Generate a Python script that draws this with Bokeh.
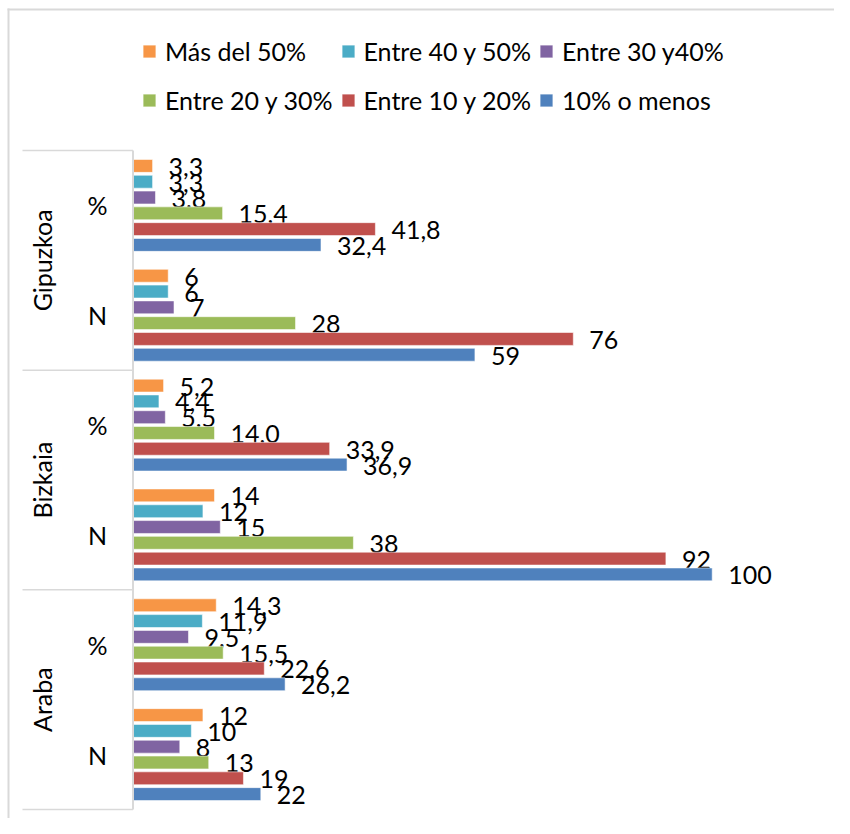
import numpy as np
from bokeh.plotting import figure
from bokeh.models import ColumnDataSource, Legend, LegendItem, Range1d
from bokeh.transform import dodge
from bokeh.core.properties import value
from bokeh.embed import file_html
from bokeh.resources import INLINE

# ---------------- data ----------------
# categories, bottom to top (as drawn)
provinces = ["Araba", "Bizkaia", "Gipuzkoa"]
measures = ["N", "%"]

series = ["Más del 50%", "Entre 40 y 50%", "Entre 30 y40%",
          "Entre 20 y 30%", "Entre 10 y 20%", "10% o menos"]
colors = ["#F79646", "#4BACC6", "#8064A2", "#9BBB59", "#C0504D", "#4F81BD"]

# values per category, in series order
araba_n = [12, 10, 8, 13, 19, 22]
araba_pct = [14.3, 11.9, 9.5, 15.5, 22.6, 26.2]
bizkaia_n = [14, 12, 15, 38, 92, 100]
bizkaia_pct = [5.2, 4.4, 5.5, 14.0, 33.9, 36.9]
gipuzkoa_n = [6, 6, 7, 28, 76, 59]
gipuzkoa_pct = [3.3, 3.3, 3.8, 15.4, 41.8, 32.4]

category_values = [araba_n, araba_pct, bizkaia_n, bizkaia_pct, gipuzkoa_n, gipuzkoa_pct]
category_measure = [m for _ in provinces for m in measures]

# ---------------- geometry / style ----------------
W, H = 834, 818
FONT = "Lato"
FS = "25px"
ORIGIN_PX = 133.0          # x pixel of value 0
PX_PER_UNIT = 5.787        # pixels per value unit
TOP_PX, BOTTOM_PX = 150.0, 809.0   # category area
N_CAT = len(category_values)
PY_PER_UNIT = (BOTTOM_PX - TOP_PX) / N_CAT
X_START = -ORIGIN_PX / PX_PER_UNIT
X_END = X_START + W / PX_PER_UNIT
Y_START = -(H - BOTTOM_PX) / PY_PER_UNIT
Y_END = Y_START + H / PY_PER_UNIT
BAR_PITCH = 15.8 / PY_PER_UNIT
BAR_H = 12.9 / PY_PER_UNIT
GRAY = "#d9d9d9"


def px_x(fx):
    return X_START + fx / PX_PER_UNIT


def px_y(fy):
    return Y_END - fy / PY_PER_UNIT


def fmt(v, m):
    return f"{v:.1f}".replace(".", ",") if m == "%" else str(int(round(v)))


p = figure(width=W, height=H, output_backend="svg", toolbar_location=None,
           x_range=Range1d(X_START, X_END), y_range=Range1d(Y_START, Y_END),
           x_axis_location=None, y_axis_location=None, min_border=0,
           outline_line_color=None, background_fill_color="white",
           border_fill_color="white")
p.xgrid.visible = False
p.ygrid.visible = False

cat_y = [i + 0.5 for i in range(N_CAT)]
renderers = []
for k, (name, col) in enumerate(zip(series, colors)):
    vals = [cv[k] for cv in category_values]
    src = ColumnDataSource(dict(
        y=cat_y, right=vals,
        label=[fmt(v, m) for v, m in zip(vals, category_measure)]))
    off = (2.5 - k) * BAR_PITCH
    r = p.hbar(y=dodge("y", off), left=0, right="right", height=BAR_H, source=src,
               fill_color=col, line_color="white", line_alpha=0.55, line_width=1)
    p.text(x="right", y=dodge("y", off), text="label", source=src,
           x_offset=16, y_offset=1, text_baseline="middle", text_align="left",
           text_font=value(FONT), text_font_size=FS, text_color="black")
    renderers.append(r)

# category axis (drawn inside the canvas)
p.text(x=[px_x(97)] * N_CAT, y=cat_y, text=category_measure,
       text_align="center", text_baseline="middle",
       text_font=value(FONT), text_font_size=FS, text_color="black")
p.text(x=[px_x(41)] * len(provinces), y=[2 * i + 1 for i in range(len(provinces))],
       text=provinces, angle=np.pi / 2, text_align="center", text_baseline="middle",
       text_font=value(FONT), text_font_size=FS, text_color="black")
sep_y = [2 * i for i in range(len(provinces) + 1)]
p.segment(x0=[px_x(22)] * len(sep_y), x1=[px_x(132.5)] * len(sep_y), y0=sep_y, y1=sep_y,
          line_color=GRAY, line_width=1.5)
p.segment(x0=[px_x(132.5)], x1=[px_x(132.5)], y0=[0], y1=[N_CAT],
          line_color=GRAY, line_width=2)

# chart-area border (left and top)
p.segment(x0=[px_x(8), px_x(7)], x1=[px_x(8), px_x(W + 5)],
          y0=[px_y(H + 5), px_y(9)], y1=[px_y(8), px_y(9)],
          line_color=GRAY, line_width=2)

legend = Legend(items=[LegendItem(label=value(s), renderers=[r]) for s, r in zip(series, renderers)],
                orientation="horizontal", ncols=3,
                location=(141, 697), glyph_width=16, glyph_height=16,
                label_standoff=8, spacing=7, label_height=42, label_width=162,
                padding=0, margin=0, border_line_color=None,
                background_fill_alpha=0, label_text_font=FONT,
                label_text_font_size=FS, label_text_color="black")
p.add_layout(legend)

open("out.html", "w").write(file_html(p, INLINE))
